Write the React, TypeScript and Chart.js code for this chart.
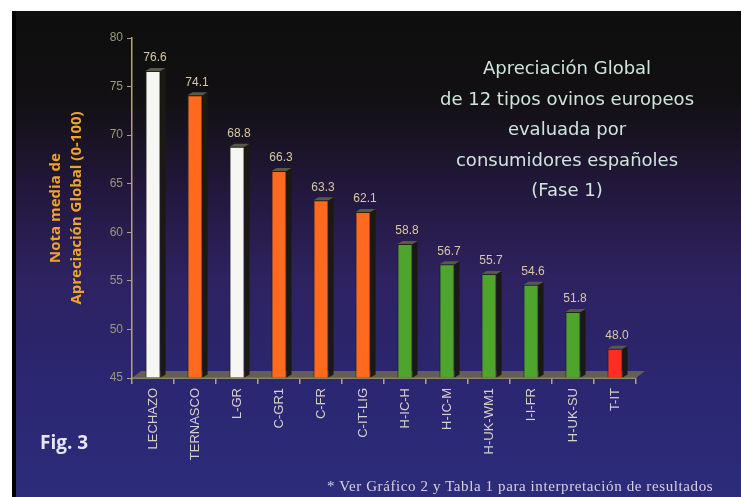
import React, { useEffect, useRef } from "react";
import { Chart, registerables } from "chart.js";

Chart.register(...registerables);

const categories = [
  "LECHAZO", "TERNASCO", "L-GR", "C-GR1", "C-FR", "C-IT-LIG",
  "H-IC-H", "H-IC-M", "H-UK-WM1", "I-I-FR", "H-UK-SU", "T-IT",
];
const values = [76.6, 74.1, 68.8, 66.3, 63.3, 62.1, 58.8, 56.7, 55.7, 54.6, 51.8, 48.0];
const barColors = [
  "#f6f6f2", "#ff6a1e", "#f6f6f2", "#ff6a1e", "#ff6a1e", "#ff6a1e",
  "#4ea42c", "#4ea42c", "#4ea42c", "#4ea42c", "#4ea42c", "#ff2e1e",
];
const yTitle = ["Nota media de", "Apreciación Global (0-100)"];
const titleLines = [
  "Apreciación Global",
  "de 12 tipos ovinos europeos",
  "evaluada por",
  "consumidores españoles",
  "(Fase 1)",
];
const footnote = "* Ver Gráfico 2 y Tabla 1 para interpretación de resultados";
const figLabel = "Fig. 3";

const bar3d = {
  id: "bar3d",
  beforeDatasetsDraw(chart: any) {
    const { ctx, chartArea } = chart;
    const { left, right, bottom } = chartArea;
    ctx.save();
    ctx.fillStyle = "rgba(110,104,84,0.85)";
    ctx.beginPath();
    ctx.moveTo(left, bottom);
    ctx.lineTo(right, bottom);
    ctx.lineTo(right + 9, bottom - 7);
    ctx.lineTo(left + 9, bottom - 7);
    ctx.closePath();
    ctx.fill();
    ctx.restore();
  },
  afterDatasetsDraw(chart: any) {
    const { ctx } = chart;
    const meta = chart.getDatasetMeta(0);
    ctx.save();
    meta.data.forEach((el: any, i: number) => {
      const { x, y, base, width } = el.getProps(["x", "y", "base", "width"], true);
      const l = x - width / 2;
      const r = x + width / 2;
      const d = 5;
      const h = 3;
      ctx.fillStyle = "#1a1a12";
      ctx.beginPath();
      ctx.moveTo(r, y);
      ctx.lineTo(r + d, y - h);
      ctx.lineTo(r + d, base - h);
      ctx.lineTo(r, base);
      ctx.closePath();
      ctx.fill();
      ctx.fillStyle = "#5a5848";
      ctx.beginPath();
      ctx.moveTo(l, y);
      ctx.lineTo(r, y);
      ctx.lineTo(r + d, y - h);
      ctx.lineTo(l + d, y - h);
      ctx.closePath();
      ctx.fill();
      ctx.fillStyle = "#d8c8a4";
      ctx.font = "12px 'Liberation Sans', sans-serif";
      ctx.textAlign = "center";
      ctx.textBaseline = "middle";
      ctx.fillText(values[i].toFixed(1), x + 2, y - 13);
    });
    ctx.restore();
  },
};

export default function App() {
  const ref = useRef<HTMLCanvasElement>(null);
  useEffect(() => {
    if (!ref.current) return;
    const chart = new Chart(ref.current, {
      type: "bar",
      data: {
        labels: categories,
        datasets: [
          {
            data: values,
            backgroundColor: barColors,
            borderColor: "#22221a",
            borderWidth: 1,
            borderSkipped: "bottom",
            barPercentage: 0.36,
            categoryPercentage: 1,
            base: 45,
          },
        ],
      },
      plugins: [bar3d],
      options: {
        animation: false,
        responsive: false,
        devicePixelRatio: 1,
        layout: { padding: { left: 45, right: 105, top: 38, bottom: 0 } },
        plugins: { legend: { display: false }, tooltip: { enabled: false } },
        scales: {
          x: {
            grid: { offset: true, drawOnChartArea: false, color: "#b4a474", tickLength: 6, lineWidth: 1.5 },
            border: { color: "#8a8468", width: 2 },
            ticks: {
              minRotation: 90,
              maxRotation: 90,
              color: "#d8d0c8",
              padding: 4,
              font: { family: "'Liberation Sans', sans-serif", size: 13 },
            },
            afterFit: (s: any) => { s.height = 119; },
          },
          y: {
            min: 45,
            max: 80,
            ticks: {
              stepSize: 5,
              color: "#9a987c",
              padding: 4,
              font: { family: "'Liberation Sans', sans-serif", size: 12 },
            },
            grid: { drawOnChartArea: false, color: "#b4a474", tickLength: 5 },
            border: { color: "#b4a474", width: 1.5 },
            title: {
              display: true,
              text: yTitle,
              color: "#f0a428",
              padding: 0,
              font: { family: "'Open Sans', sans-serif", size: 15, weight: "bold", lineHeight: 1.4 },
            },
            afterFit: (s: any) => { s.width = 87; },
          },
        },
      },
    });
    return () => chart.destroy();
  }, []);

  return (
    <div style={{ position: "fixed", left: 0, top: 0, width: 741, height: 497, background: "#fff", overflow: "hidden" }}>
      <div
        style={{
          position: "absolute", left: 12, top: 11, right: 0, bottom: 0,
          borderLeft: "4px solid #000",
          background: "linear-gradient(180deg, #0e0e0e 0%, #121012 18%, #23183e 38%, #2e2260 55%, #2b2670 75%, #2c2c7a 100%)",
        }}
      />
      <canvas ref={ref} width={741} height={497} style={{ position: "absolute", left: 0, top: 0 }} />
      <div
        style={{
          position: "absolute", left: 407, top: 53, width: 320, textAlign: "center",
          fontFamily: "'DejaVu Sans', sans-serif", fontSize: 18, lineHeight: "30.5px", color: "#cfe4dc",
        }}
      >
        {titleLines.map((t, i) => <div key={i}>{t}</div>)}
      </div>
      <div
        style={{
          position: "absolute", left: 40, top: 429, fontFamily: "'Open Sans', sans-serif",
          fontWeight: "bold", fontSize: 19, color: "#e4e6f2",
        }}
      >
        {figLabel}
      </div>
      <div
        style={{
          position: "absolute", left: 327, top: 478, whiteSpace: "nowrap", letterSpacing: "0.6px",
          fontFamily: "'Liberation Serif', serif", fontSize: 15, color: "#d8d0e0",
        }}
      >
        {footnote}
      </div>
    </div>
  );
}
